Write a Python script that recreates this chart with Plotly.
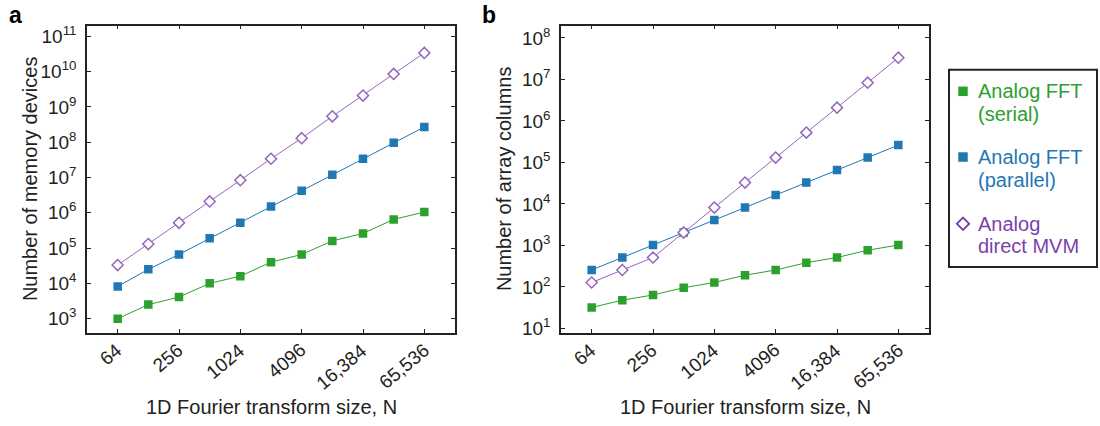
import math
import plotly.graph_objects as go

# Fourier transform sizes
N = [64, 128, 256, 512, 1024, 2048, 4096, 8192, 16384, 32768, 65536]

# (a) number of memory devices
mem_fft_serial = [1.0e3, 2.5e3, 4.1e3, 1.0e4, 1.6e4, 4.0e4, 6.6e4, 1.6e5, 2.6e5, 6.5e5, 1.05e6]
mem_fft_parallel = [8.2e3, 2.5e4, 6.6e4, 1.9e5, 5.2e5, 1.5e6, 4.2e6, 1.2e7, 3.4e7, 9.6e7, 2.7e8]
mem_direct_mvm = [3.3e4, 1.3e5, 5.2e5, 2.1e6, 8.4e6, 3.4e7, 1.3e8, 5.4e8, 2.1e9, 8.6e9, 3.4e10]

# (b) number of array columns
col_fft_serial = [32, 48, 64, 96, 128, 192, 256, 384, 512, 768, 1024]
col_fft_parallel = [256, 512, 1024, 2048, 4096, 8192, 16384, 32768, 65536, 131072, 262144]
col_direct_mvm = [128, 256, 512, 2048, 8192, 32768, 131072, 524288, 2097152, 8388608, 33554432]

# Tick labels
x_tickvals = [64, 256, 1024, 4096, 16384, 65536]
x_ticktext = ["64", "256", "1024", "4096", "16,384", "65,536"]
ya_exponents = list(range(3, 12))
yb_exponents = list(range(1, 9))

series_names = ["Analog FFT<br>(serial)", "Analog FFT<br>(parallel)", "Analog<br>direct MVM"]

W, H = 1100, 426
FONT = "Liberation Sans, Arial, sans-serif"
INK = "#222222"
GREEN = "#2ca02c"
BLUE = "#1f77b4"
PURPLE = "#9467bd"
PURPLE_TXT = "#7b3fae"


def fx(px):
    return px / W


def fy(px):
    return 1 - px / H


fig = go.Figure()

styles = [
    dict(color=GREEN, symbol="square", fill=GREEN, size=8.5),
    dict(color=BLUE, symbol="square", fill=BLUE, size=8.5),
    dict(color=PURPLE, symbol="diamond", fill="white", size=8.5),
]

panels = [
    ("x", "y", [mem_fft_serial, mem_fft_parallel, mem_direct_mvm]),
    ("x2", "y2", [col_fft_serial, col_fft_parallel, col_direct_mvm]),
]

for xa, ya, series in panels:
    for vals, st in zip(series, styles):
        fig.add_trace(go.Scatter(
            x=N, y=vals, xaxis=xa, yaxis=ya, mode="lines+markers",
            line=dict(color=st["color"], width=1),
            marker=dict(symbol=st["symbol"], size=st["size"], color=st["fill"],
                        line=dict(color=st["color"], width=1.5 if st["fill"] == "white" else 0)),
            showlegend=False, hoverinfo="skip",
        ))

tick_font = dict(family=FONT, size=19, color=INK)
axis_common = dict(
    showline=True, linecolor=INK, linewidth=1.5, mirror="ticks",
    ticks="inside", ticklen=4, tickwidth=1, tickcolor=INK,
    showgrid=False, zeroline=False,
    tickfont=tick_font,
)

x_range = [math.log10(2 ** 5), math.log10(2 ** 17)]

fig.update_layout(
    width=W, height=H,
    margin=dict(l=0, r=0, t=0, b=0),
    paper_bgcolor="white", plot_bgcolor="rgba(0,0,0,0)",
    font=dict(family=FONT, color=INK),
    xaxis=dict(domain=[fx(87), fx(455)], type="log", range=x_range, anchor="y",
               tickvals=x_tickvals, showticklabels=False, **axis_common),
    yaxis=dict(domain=[fy(337), fy(24)], type="log", range=[2.603, 11.306], anchor="x",
               tickvals=[10 ** e for e in ya_exponents],
               ticktext=[f"10<sup>{e}</sup>" for e in ya_exponents],
               ticklabelstandoff=5, **axis_common),
    xaxis2=dict(domain=[fx(561), fx(929)], type="log", range=x_range, anchor="y2",
                tickvals=x_tickvals, showticklabels=False, **axis_common),
    yaxis2=dict(domain=[fy(337), fy(24)], type="log", range=[0.898, 8.30], anchor="x2",
                tickvals=[10 ** e for e in yb_exponents],
                ticktext=[f"10<sup>{e}</sup>" for e in yb_exponents],
                ticklabelstandoff=5, **axis_common),
    # pixel-space overlay used for the legend keys
    xaxis3=dict(domain=[0, 1], range=[0, W], visible=False, anchor="y3", fixedrange=True),
    yaxis3=dict(domain=[0, 1], range=[H, 0], visible=False, anchor="x3", fixedrange=True),
    showlegend=False,
)

# Rotated x tick labels, ending just right of each tick
for xref in ["x", "x2"]:
    for v, t in zip(x_tickvals, x_ticktext):
        fig.add_annotation(x=math.log10(v), y=fy(341), xref=xref, yref="paper",
                           text=t, showarrow=False, textangle=-40,
                           xanchor="right", yanchor="top", xshift=11,
                           font=tick_font)

# Legend box
legend_left, legend_top, legend_right, legend_bottom = 949, 69, 1097, 270
fig.add_shape(type="rect", xref="paper", yref="paper",
              x0=fx(legend_left), x1=fx(legend_right), y0=fy(legend_bottom), y1=fy(legend_top),
              line=dict(color=INK, width=2), fillcolor="rgba(0,0,0,0)", layer="above")

legend_rows = [91, 158, 226]
legend_text_colors = [GREEN, BLUE, PURPLE_TXT]
legend_key_x = 963
legend_text_x = 976
line_gap = 23
for row, st, name, tcol in zip(legend_rows, styles, series_names, legend_text_colors):
    key_col = PURPLE_TXT if st["fill"] == "white" else st["color"]
    fig.add_trace(go.Scatter(
        x=[legend_key_x], y=[row], xaxis="x3", yaxis="y3", mode="markers",
        marker=dict(symbol=st["symbol"], size=9.5,
                    color="white" if st["fill"] == "white" else key_col,
                    line=dict(color=key_col, width=1.8 if st["fill"] == "white" else 0)),
        showlegend=False, hoverinfo="skip",
    ))
    for i, part in enumerate(name.split("<br>")):
        fig.add_annotation(x=fx(legend_text_x), y=fy(row + i * line_gap), xref="paper", yref="paper",
                           text=part, showarrow=False, xanchor="left", yanchor="middle",
                           font=dict(family=FONT, size=20, color=tcol))

# Axis titles
title_font = dict(family=FONT, size=20, color=INK)
for cx in [271, 745]:
    fig.add_annotation(x=fx(cx), y=fy(413), xref="paper", yref="paper",
                       text="1D Fourier transform size, N", showarrow=False,
                       xanchor="center", yanchor="middle", font=title_font)
for cx, label in [(30, "Number of memory devices"), (504, "Number of array columns")]:
    fig.add_annotation(x=fx(cx), y=fy(180.5), xref="paper", yref="paper",
                       text=label, showarrow=False, textangle=-90,
                       xanchor="center", yanchor="middle", font=title_font)

# Panel labels
for cx, label in [(15.5, "a"), (488.5, "b")]:
    fig.add_annotation(x=fx(cx), y=fy(13.5), xref="paper", yref="paper",
                       text=f"<b>{label}</b>", showarrow=False,
                       xanchor="center", yanchor="middle",
                       font=dict(family=FONT, size=23, color="black"))

fig.write_html("out.html")
